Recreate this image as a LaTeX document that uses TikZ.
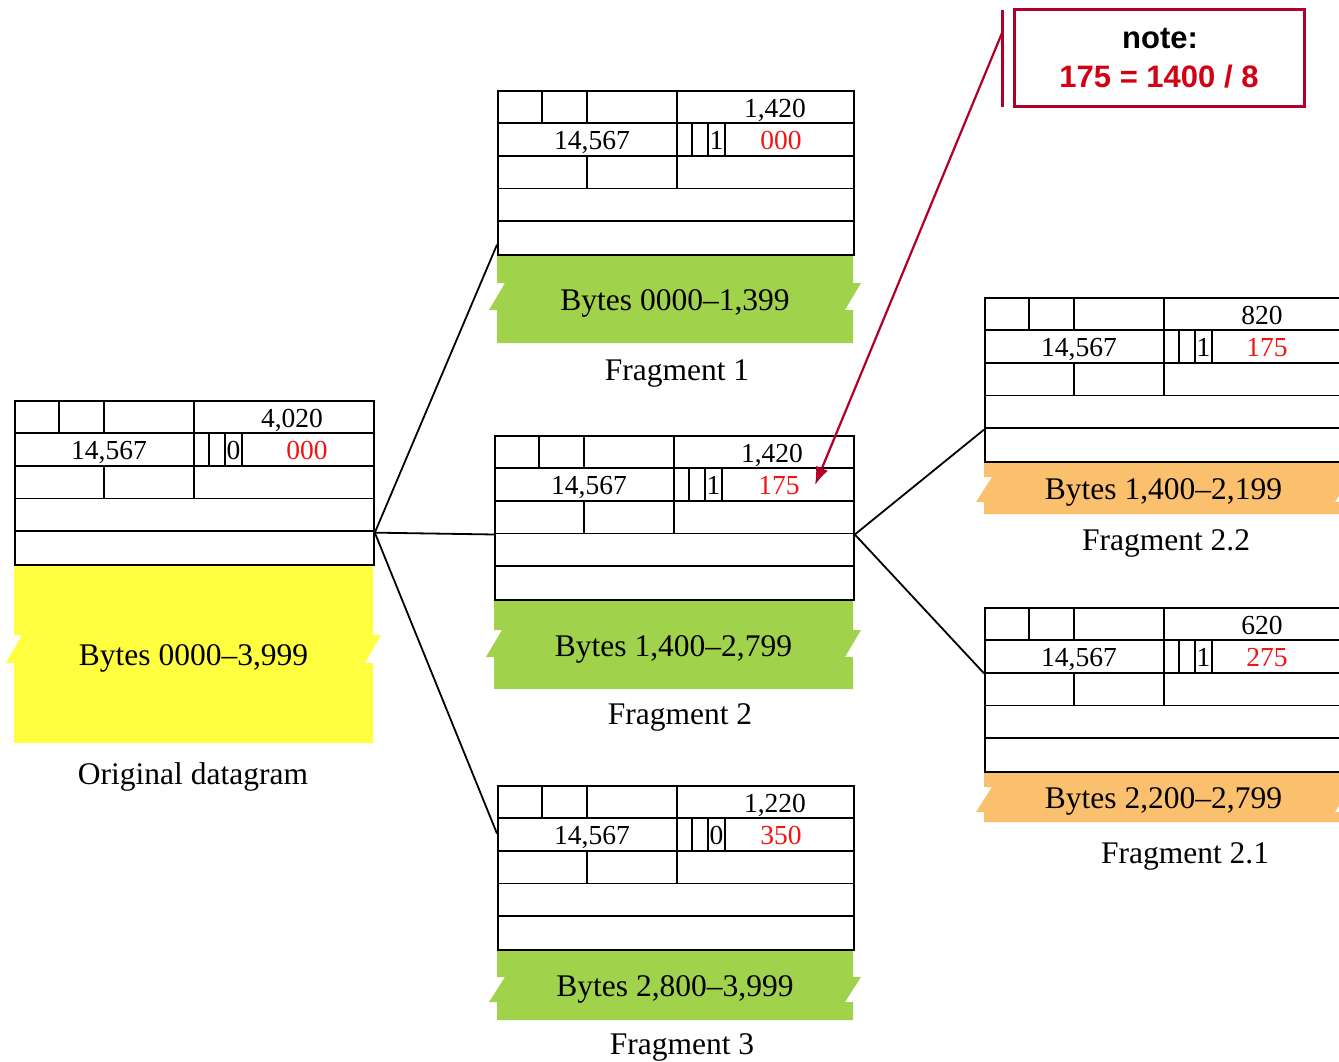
\documentclass[tikz,border=0pt]{standalone}
\usepackage{fontspec}
\setmainfont{Liberation Serif}
\newfontfamily\notefont{Liberation Sans}
\usetikzlibrary{arrows.meta,calc}
\definecolor{hdrred}{RGB}{240,20,20}
\definecolor{crimson}{RGB}{176,0,40}
\definecolor{notered}{RGB}{212,0,20}
\definecolor{dgyellow}{RGB}{255,255,64}
\definecolor{fggreen}{RGB}{161,210,75}
\definecolor{fgorange}{RGB}{251,192,110}
\tikzset{
  hdr/.style={draw, line width=1.8pt, rectangle, inner sep=0pt, minimum height=164pt},
  hline/.style={line width=1.8pt},
  hnum/.style={font=\fontsize{27.5}{30}\selectfont, inner sep=0pt},
  hoff/.style={hnum, text=hdrred},
  bytes/.style={font=\fontsize{31.5}{34}\selectfont, inner sep=0pt},
  caption/.style={font=\fontsize{31.5}{34}\selectfont, inner sep=0pt},
  link/.style={line width=1.8pt},
  notetxt/.style={font=\notefont\bfseries\fontsize{31}{34}\selectfont, inner sep=0pt},
  notebox/.style={draw=crimson, line width=3pt, inner sep=0pt},
  notearrow/.style={crimson, line width=2.2pt, -{Latex[length=18pt,width=13pt]}}
}
% #1 name, #2 left, #3 top, #4 width, #5 total length, #6 MF flag, #7 offset, #8 offset x
\newcommand\ipheader[8]{%
  \node[hdr, minimum width=#4pt, anchor=north west] (#1) at (#2,#3) {};
  \foreach \k in {1,...,4} \draw[hline] (#2,#3+\k*32.8) -- ++(#4,0);
  \foreach \c in {45,90,180} \draw[hline] (#2+\c,#3) -- ++(0,32.8);
  \foreach \c in {180,195,211,228} \draw[hline] (#2+\c,#3+32.8) -- ++(0,32.8);
  \foreach \c in {90,180} \draw[hline] (#2+\c,#3+65.6) -- ++(0,32.8);
  \node[hnum, anchor=base] (#1-len) at (#2+278,#3+27) {#5};
  \node[hnum, anchor=base] (#1-id) at (#2+95,#3+59.8) {14,567};
  \node[hnum, anchor=base] (#1-mf) at (#2+219.5,#3+59.8) {#6};
  \node[hoff, anchor=base] (#1-off) at (#2+#8,#3+59.8) {#7};
}
% #1 name, #2 left, #3 top, #4 width, #5 height, #6 jag top, #7 jag bottom, #8 colour, #9 text
\newcommand\datablock[9]{%
  \fill[#8] (#2,#3) -- ++(#4,0) -- ++(0,#6) -- ++(8,0) -- ++(-16,#7-#6) -- ++(8,0)
    -- (#2+#4,#3+#5) -- (#2,#3+#5) -- (#2,#3+#7) -- ++(-8,0) -- ++(16,#6-#7) -- ++(-8,0) -- cycle;
  \node[bytes, anchor=base] (#1) at (#2+#4/2,#3+#5/2+12) {#9};
}
\begin{document}
\begin{tikzpicture}[x=1pt,y=-1pt]
\useasboundingbox (0,0) rectangle (1339,1061);
\clip (0,0) rectangle (1339,1061);

% data blocks
\datablock{orig-data}{14}{564}{359}{179}{71}{99}{dgyellow}{Bytes 0000--3,999}
\datablock{f1-data}{497}{254}{356}{89}{29}{56}{fggreen}{Bytes 0000--1,399}
\datablock{f2-data}{494}{599}{359}{90}{31}{58}{fggreen}{Bytes 1,400--2,799}
\datablock{f3-data}{497}{949}{356}{71}{28}{53}{fggreen}{Bytes 2,800--3,999}
\datablock{f22-data}{984}{461}{359}{53}{16}{41}{fgorange}{Bytes 1,400--2,199}
\datablock{f21-data}{984}{771}{359}{51}{16}{41}{fgorange}{Bytes 2,200--2,799}

% headers
\ipheader{orig}{14}{400}{359}{4,020}{0}{000}{293}
\ipheader{f1}{497}{90}{356}{1,420}{1}{000}{284}
\ipheader{f2}{494}{435}{359}{1,420}{1}{175}{285}
\ipheader{f3}{497}{785}{356}{1,220}{0}{350}{284}
\ipheader{f22}{984}{297}{359}{820}{1}{175}{283}
\ipheader{f21}{984}{607}{359}{620}{1}{275}{283}

% captions
\node[caption, anchor=base] (orig-cap) at (193,784) {Original datagram};
\node[caption, anchor=base] (f1-cap) at (677,380) {Fragment 1};
\node[caption, anchor=base] (f2-cap) at (680,724) {Fragment 2};
\node[caption, anchor=base] (f3-cap) at (682,1054) {Fragment 3};
\node[caption, anchor=base] (f22-cap) at (1166,550) {Fragment 2.2};
\node[caption, anchor=base] (f21-cap) at (1185,863) {Fragment 2.1};

% connectors
\coordinate (orig-out) at ($(orig.south east)!0.2!(orig.north east)$);
\coordinate (f2-out) at ($(f2.south east)!0.4!(f2.north east)$);
\draw[link] (orig-out) -- ($(f1.south west)!0.067!(f1.north west)$);
\draw[link] (orig-out) -- ($(f2.south west)!0.4!(f2.north west)$);
\draw[link] (orig-out) -- ($(f3.south west)!0.707!(f3.north west)$);
\draw[link] (f2-out) -- ($(f22.south west)!0.2!(f22.north west)$);
\draw[link] (f2-out) -- ($(f21.south west)!0.6!(f21.north west)$);

% note
\node[notebox, minimum width=290pt, minimum height=97pt] (note) at (1159,58) {};
\node[notetxt, anchor=base] (note-t1) at (1160,48) {note:};
\node[notetxt, text=notered, anchor=base] (note-t2) at (1159,87) {175 = 1400 / 8};
\coordinate (bar-top) at (1002,10);
\coordinate (bar-bot) at (1002,107);
\draw[crimson, line width=3pt] (bar-top) -- (bar-bot);
\coordinate (arrow-start) at (1002,33);
\coordinate (arrow-end) at (815,485);
\draw[notearrow] (arrow-start) -- (arrow-end);
\end{tikzpicture}
\end{document}
